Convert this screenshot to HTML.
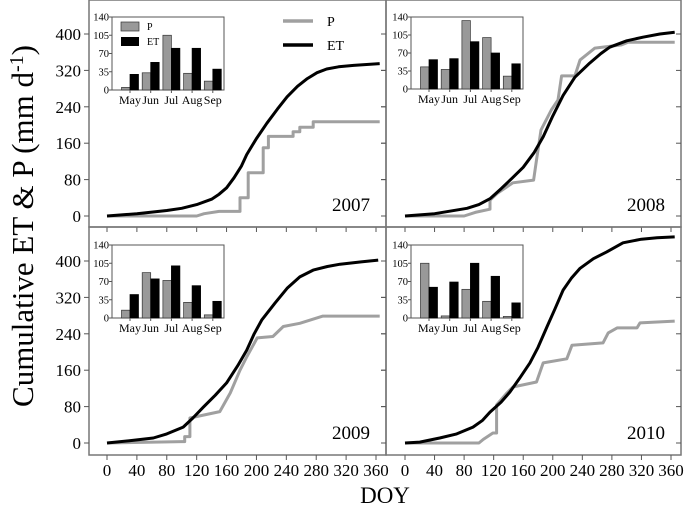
<!DOCTYPE html>
<html><head><meta charset="utf-8"><style>
html,body{margin:0;padding:0;background:#fff;}
svg{display:block;font-family:"Liberation Serif",serif;}
</style></head><body>
<svg id="chart" width="685" height="508" viewBox="0 0 685 508"></svg>
<script>
// ---- data ----
const years = ["2007","2008","2009","2010"];
const etDays2007 = [0,40,80,100,120,140,150,160,170,180,187,200,214,228,241,255,268,281,294,310,330,365];
const etVals2007 = [0,5,12,17,25,37,48,62,84,110,135,170,204,235,262,285,302,315,323,328,331,335];
const pDays2007 = [0,120,130,150,178,178,189,189,209,209,216,216,249,249,258,258,276,276,365];
const pVals2007 = [0,0,5,10,10,40,40,95,95,150,150,175,175,185,185,195,195,207,207];
const etDays2008 = [0,40,84,100,115,130,145,160,175,187,200,214,230,250,265,277,300,322,345,365];
const etVals2008 = [0,5,17,25,38,60,83,107,140,174,220,265,305,336,357,371,385,393,400,404];
const pDays2008 = [0,80,95,115,115,125,146,174,178,184,198,207,212,230,237,257,293,302,365];
const pVals2008 = [0,0,8,15,35,50,73,79,123,189,233,255,308,308,343,369,376,382,382];
const etDays2009 = [0,30,62,80,102,115,129,145,160,175,187,197,207,225,241,258,276,295,312,340,363];
const etVals2009 = [0,5,11,20,35,55,79,105,132,170,204,240,270,308,340,365,380,388,393,398,402];
const pDays2009 = [0,100,104,104,111,111,151,165,178,187,201,222,236,258,289,365];
const pVals2009 = [0,3,3,14,14,55,69,110,160,189,231,234,256,263,279,279];
const etDays2010 = [0,20,47,70,92,105,115,130,142,155,169,180,192,203,214,225,237,255,273,295,320,341,365];
const etVals2010 = [0,2,11,20,35,50,68,90,112,142,176,210,255,295,336,362,384,405,420,440,448,451,453];
const pDays2010 = [0,100,106,119,124,124,138,146,178,187,219,226,268,275,287,314,318,365];
const pVals2010 = [0,0,8,22,22,84,110,123,134,176,185,215,220,242,253,253,264,268];
const months = ["May","Jun","Jul","Aug","Sep"];
const insetP2007 = [5,33,105,32,17];
const insetET2007 = [30,53,80,80,40];
const insetP2008 = [43,38,133,100,25];
const insetET2008 = [57,59,92,70,49];
const insetP2009 = [15,87,72,30,6];
const insetET2009 = [45,75,100,62,32];
const insetP2010 = [105,4,55,32,3];
const insetET2010 = [59,69,105,80,29];
const xTicks = [0,40,80,120,160,200,240,280,320,360];
const yTicks = [0,80,160,240,320,400];
const insetTicks = [0,35,70,105,140];

const NS="http://www.w3.org/2000/svg";
const svg=document.getElementById('chart');
function mk(tag,attrs,parent){const e=document.createElementNS(NS,tag);for(const k in attrs)e.setAttribute(k,attrs[k]);(parent||svg).appendChild(e);return e;}

const panels=[
 {x0:107,x1:376,y0:216,frame:[89,0,386,227],et:[etDays2007,etVals2007],p:[pDays2007,pVals2007],ip:insetP2007,ie:insetET2007,inset:[112,17,224,90],yr:"2007",yl:true,xl:false},
 {x0:405,x1:671,y0:216,frame:[386,0,681,227],et:[etDays2008,etVals2008],p:[pDays2008,pVals2008],ip:insetP2008,ie:insetET2008,inset:[411,17,523,89],yr:"2008",yl:false,xl:false},
 {x0:107,x1:376,y0:443,frame:[89,227,386,455],et:[etDays2009,etVals2009],p:[pDays2009,pVals2009],ip:insetP2009,ie:insetET2009,inset:[112,245,224,318],yr:"2009",yl:true,xl:true},
 {x0:405,x1:671,y0:443,frame:[386,227,681,455],et:[etDays2010,etVals2010],p:[pDays2010,pVals2010],ip:insetP2010,ie:insetET2010,inset:[411,245,523,318],yr:"2010",yl:false,xl:true}
];
const ky=182/400;

panels.forEach((pn,i)=>{
  const g=mk('g',{});
  
  
  const sx=d=>pn.x0+(pn.x1-pn.x0)*d/360;
  const sy=v=>pn.y0-v*ky;
  const [fx0,fy0,fx1,fy1]=pn.frame;
  const fr=mk('rect',{x:fx0,y:fy0,width:fx1-fx0,height:fy1-fy0,fill:'none',stroke:'#777','stroke-width':1.5},g);
  
  
  yTicks.forEach(t=>{
    const y=sy(t);
    mk('line',{x1:fx0-5,y1:y,x2:fx0,y2:y,stroke:'#555','stroke-width':1},g);
    mk('line',{x1:fx1-5,y1:y,x2:fx1,y2:y,stroke:'#555','stroke-width':1},g);
    if(pn.yl){const tx=mk('text',{x:fx0-8,y:y+6,'text-anchor':'end','font-size':17},g);tx.textContent=t;
      
      }
  });
  xTicks.forEach(t=>{
    const x=sx(t);
    mk('line',{x1:x,y1:fy1,x2:x,y2:fy1+5,stroke:'#555','stroke-width':1},g);
    if(pn.xl){const tx=mk('text',{x:x,y:fy1+21,'text-anchor':'middle','font-size':17},g);tx.textContent=t;
      
      }
  });
  const line=(arr,color,name)=>{
    const pts=arr[0].map((d,j)=>sx(d).toFixed(1)+','+sy(arr[1][j]).toFixed(1)).join(' ');
    const pl=mk('polyline',{points:pts,fill:'none',stroke:color,'stroke-width':3,'stroke-linejoin':'round'},g);
    
    
  };
  line(pn.p,'#a0a0a0','p-line-'+pn.yr);
  line(pn.et,'#000','et-line-'+pn.yr);
  const yt=mk('text',{x:fx1-16,y:fy1-16,'text-anchor':'end','font-size':19},g);
  yt.textContent=pn.yr;
  
  
  const [ix0,iy0,ix1,iy1]=pn.inset;
  const ig=mk('g',{},g);
  
  
  mk('rect',{x:ix0,y:iy0,width:ix1-ix0,height:iy1-iy0,fill:'#fff',stroke:'#555','stroke-width':1},ig);
  const isy=v=>iy1-(iy1-iy0)*v/140;
  insetTicks.forEach(t=>{
    mk('line',{x1:ix0-3,y1:isy(t),x2:ix0,y2:isy(t),stroke:'#555'},ig);
    const tx=mk('text',{x:ix0-3,y:isy(t)+3.5,'text-anchor':'end','font-size':10.5},ig);tx.textContent=t;
  });
  const cw=20.7, bw=8.5;
  months.forEach((m,j)=>{
    const cx=ix0+18+cw*j;
    const b1=mk('rect',{x:cx-bw,y:isy(pn.ip[j]),width:bw,height:isy(0)-isy(pn.ip[j]),fill:'#999',stroke:'#333','stroke-width':0.7},ig);
    
    
    const b2=mk('rect',{x:cx,y:isy(pn.ie[j]),width:bw,height:isy(0)-isy(pn.ie[j]),fill:'#000',stroke:'#000','stroke-width':0.7},ig);
    
    
    mk('line',{x1:cx,y1:iy1,x2:cx,y2:iy1+3,stroke:'#555'},ig);
    const tx=mk('text',{x:cx,y:iy1+14,'text-anchor':'middle','font-size':12},ig);tx.textContent=m;
  });
  if(i===0){
    mk('rect',{x:ix0+9,y:iy0+5,width:18,height:9,fill:'#999',stroke:'#333','stroke-width':0.7},ig);
    mk('rect',{x:ix0+9,y:iy0+20,width:18,height:9,fill:'#000'},ig);
    const a=mk('text',{x:ix0+35,y:iy0+13,'font-size':10},ig);a.textContent='P';
    const b=mk('text',{x:ix0+35,y:iy0+28,'font-size':10},ig);b.textContent='ET';
  }
});
const lg=mk('g',{});


mk('line',{x1:283,y1:21,x2:313,y2:21,stroke:'#a0a0a0','stroke-width':3.5},lg);
mk('line',{x1:283,y1:45,x2:313,y2:45,stroke:'#000','stroke-width':3.5},lg);
const l1=mk('text',{x:327,y:26,'font-size':14},lg);l1.textContent='P';
const l2=mk('text',{x:327,y:50,'font-size':14},lg);l2.textContent='ET';
const yt=mk('text',{x:0,y:0,'text-anchor':'middle','font-size':31,transform:'translate(33,226) rotate(-90)'});
yt.innerHTML='Cumulative ET &amp; P (mm d<tspan dy="-10" font-size="20">-1</tspan><tspan dy="10">)</tspan>';


const xt=mk('text',{x:385,y:503,'text-anchor':'middle','font-size':23});
xt.textContent='DOY';


</script>
</body></html>
